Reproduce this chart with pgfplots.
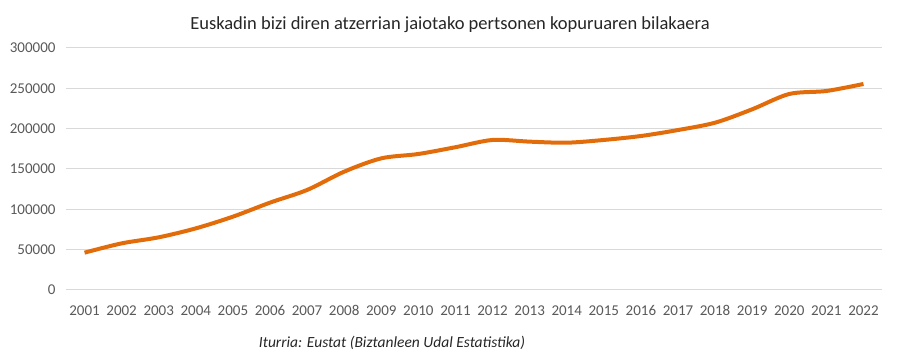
\documentclass[border=0pt]{standalone}
\usepackage{pgfplots}
\pgfplotsset{compat=1.18}
\usepackage{fontspec}
\setmainfont{Carlito}
\definecolor{lineor}{HTML}{E36C0A}
\definecolor{gridg}{HTML}{D9D9D9}
\definecolor{tickg}{HTML}{595959}
\begin{document}
\begin{tikzpicture}[x=1pt,y=1pt]
\path[use as bounding box] (0,0) rectangle (900,361);
\begin{axis}[
  at={(66pt,71pt)}, anchor=south west,
  scale only axis, width=816pt, height=242pt,
  xmin=-0.5, xmax=21.5, ymin=0, ymax=300000,
  xtick={0,...,21},
  xticklabels={2001,2002,2003,2004,2005,2006,2007,2008,2009,2010,2011,2012,2013,2014,2015,2016,2017,2018,2019,2020,2021,2022},
  ytick={0,50000,100000,150000,200000,250000,300000},
  scaled y ticks=false,
  yticklabel style={/pgf/number format/fixed,/pgf/number format/1000 sep={}},
  /pgf/number format/assume math mode=true,
  ymajorgrids, major grid style={gridg, line width=1pt},
  axis line style={draw=none},
  axis x line*=bottom,
  x axis line style={gridg, line width=1pt},
  major tick length=0pt,
  tick label style={font=\fontsize{15}{17}\selectfont, text=tickg},
  xticklabel style={anchor=base, yshift=-26pt},
  yticklabel style={xshift=-7pt},
  clip=false,
]
\addplot[lineor, line width=4pt, smooth, tension=0.5] coordinates {
(0,46300) (1,57800) (2,65300) (3,76400) (4,90900) (5,108300) (6,124000)
(7,146700) (8,163200) (9,168600) (10,177000) (11,186000) (12,183900)
(13,182600) (14,186000) (15,190900) (16,198300) (17,207400) (18,224000)
(19,243000) (20,246700) (21,255400)};
\end{axis}
\node[font=\fontsize{18.5}{22}\selectfont, text=black!85] at (450,336) {Euskadin bizi diren atzerrian jaiotako pertsonen kopuruaren bilakaera};
\node[font=\fontsize{15.5}{18}\selectfont\itshape, text=black!85] at (392,18) {Iturria: Eustat (Biztanleen Udal Estatistika)};
\end{tikzpicture}
\end{document}
